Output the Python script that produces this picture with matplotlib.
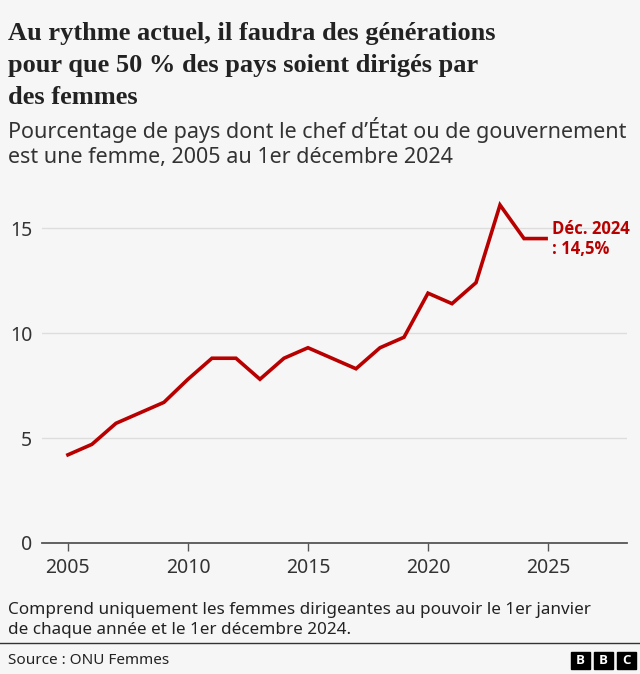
import matplotlib.pyplot as plt
from matplotlib.patches import Rectangle
from matplotlib.lines import Line2D

# share of countries with a woman head of state/government (%)
years = [2005, 2006, 2007, 2008, 2009, 2010, 2011, 2012, 2013, 2014, 2015,
         2016, 2017, 2018, 2019, 2020, 2021, 2022, 2023, 2024, 2024.92]
share = [4.2, 4.7, 5.7, 6.2, 6.7, 7.8, 8.8, 8.8, 7.8, 8.8, 9.3,
         8.8, 8.3, 9.3, 9.8, 11.9, 11.4, 12.4, 16.1, 14.5, 14.5]
x_ticks = [2005, 2010, 2015, 2020, 2025]
y_ticks = [0, 5, 10, 15]
end_label = "Déc. 2024\n: 14,5%"

BG = '#f6f6f6'
RED = '#b80000'
SANS = ['Noto Sans', 'DejaVu Sans']
BOLD_SANS = ['Open Sans', 'DejaVu Sans']

fig = plt.figure(figsize=(6.4, 6.74), dpi=100, facecolor=BG)
W, H = 640, 674

def fx(px):
    return px / W

def fy(py):
    return 1 - py / H

# title and subtitle (y = baseline of the last line)
fig.text(fx(8), fy(104), "Au rythme actuel, il faudra des générations\npour que 50 % des pays soient dirigés par\ndes femmes",
         family=['Liberation Serif', 'DejaVu Serif'], fontweight='bold', fontsize=19,
         color='#222222', va='baseline', ha='left', linespacing=1.5)
fig.text(fx(8), fy(163), "Pourcentage de pays dont le chef d’État ou de gouvernement\nest une femme, 2005 au 1er décembre 2024",
         family=SANS, fontsize=15.5, color='#333333', va='baseline', ha='left', linespacing=1.25)

# plot area: x 42..627 px, y 0 at 543 px
ax = fig.add_axes([fx(42), fy(543), fx(627 - 42), (543 - 197) / H])
ax.set_facecolor(BG)
ax.set_xlim(2003.92, 2028.29)
ax.set_ylim(0, 16.48)

ax.plot(years, share, color=RED, linewidth=2.6, solid_joinstyle='miter', zorder=3,
        clip_on=False)
ax.annotate(end_label, xy=(years[-1], share[-1]), xytext=(4, 0), textcoords='offset points',
            color=RED, fontweight='bold', fontsize=12, family=BOLD_SANS,
            va='center', ha='left', linespacing=1.15, annotation_clip=False)

ax.set_yticks(y_ticks)
ax.set_xticks(x_ticks)
ax.grid(axis='y', color='#dddddd', linewidth=1)
ax.set_axisbelow(True)
for s in ['top', 'right', 'left']:
    ax.spines[s].set_visible(False)
ax.spines['bottom'].set_color('#555555')
ax.spines['bottom'].set_linewidth(1.3)
ax.tick_params(axis='y', length=0, pad=7, labelsize=14, labelcolor='#333333')
ax.tick_params(axis='x', length=5.5, width=1, color='#555555', pad=5, labelsize=14,
               labelcolor='#333333')
for lab in ax.get_xticklabels() + ax.get_yticklabels():
    lab.set_family(SANS)

# footnote and source
fig.text(fx(8), fy(634), "Comprend uniquement les femmes dirigeantes au pouvoir le 1er janvier\nde chaque année et le 1er décembre 2024.",
         family=SANS, fontsize=12.3, color='#222222', va='baseline', ha='left', linespacing=1.3)
fig.add_artist(Line2D([0, 1], [fy(643), fy(643)], color='#333333', linewidth=1))
fig.text(fx(8), fy(660), "Source : ONU Femmes", family=SANS, fontsize=11,
         color='#222222', va='center', ha='left')

# BBC blocks
for i, letter in enumerate("BBC"):
    x0 = 571 + i * 23
    fig.add_artist(Rectangle((fx(x0), fy(669)), fx(19), 17 / H, color='black',
                             transform=fig.transFigure))
    fig.text(fx(x0 + 9.5), fy(660.5), letter, color='white', fontweight='bold',
             fontsize=9.5, family=BOLD_SANS, ha='center', va='center')

fig.savefig('out.png', dpi=100, facecolor=BG)
